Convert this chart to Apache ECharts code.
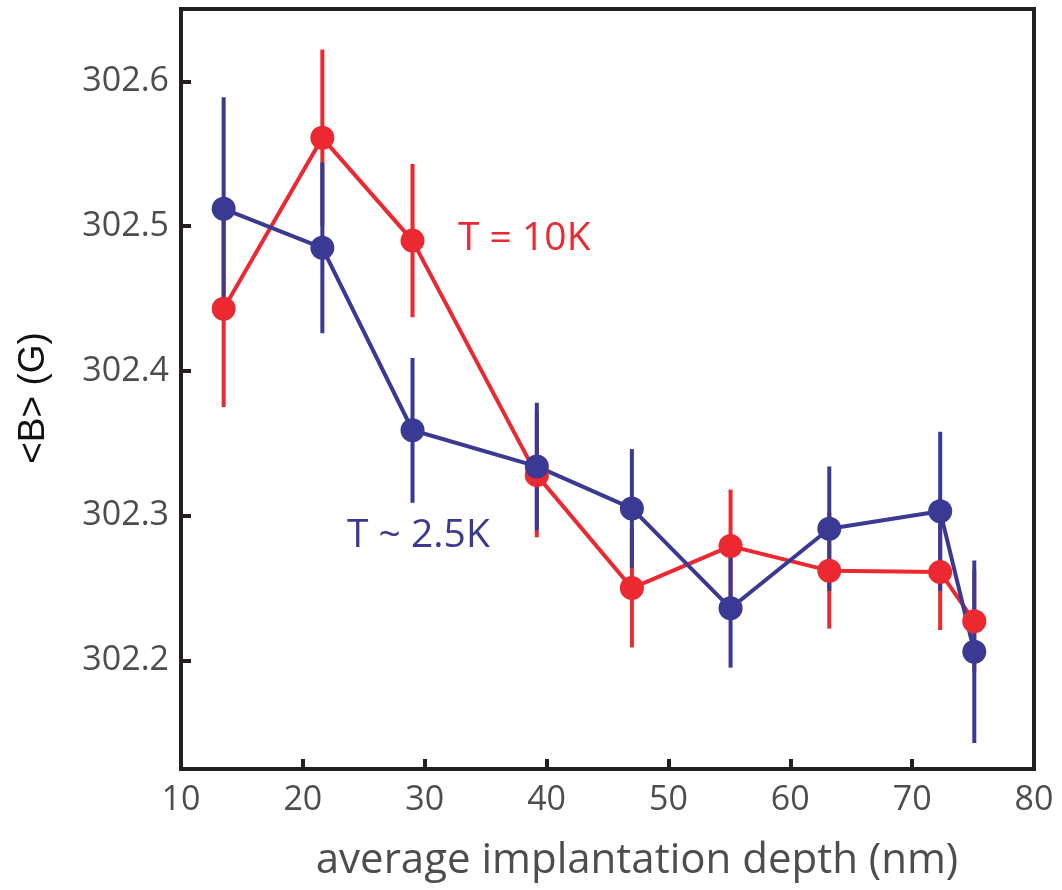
<!DOCTYPE html>
<html><head><meta charset="utf-8">
<script src="https://cdn.jsdelivr.net/npm/echarts@6/dist/echarts.min.js"></script>
<style>html,body{margin:0;padding:0;background:#fff}#c{width:1062px;height:890px}</style>
</head><body><div id="c"></div>
<script>
const depth = [13.5, 21.6, 29.0, 39.2, 47.0, 55.1, 63.2, 72.3, 75.1];
const b10K = [302.443, 302.561, 302.490, 302.328, 302.250, 302.279, 302.262, 302.261, 302.227];
const err10K = [0.068, 0.061, 0.053, 0.043, 0.041, 0.039, 0.040, 0.040, 0.035];
const b25K = [302.512, 302.485, 302.359, 302.334, 302.305, 302.236, 302.291, 302.303, 302.206];
const err25K = [0.077, 0.059, 0.050, 0.044, 0.041, 0.041, 0.043, 0.055, 0.063];
const xTicks = [10, 20, 30, 40, 50, 60, 70, 80];
const yTicks = [302.2, 302.3, 302.4, 302.5, 302.6];

const RED = '#EC2830', BLUE = '#3A3A94', AX = '#231F20', LBL = '#4D4D4D';
const FONT = '"Open Sans", sans-serif';

function pts(v){ return depth.map((d,i)=>[d, v[i]]); }
function errData(v, e){ return depth.map((d,i)=>[d, v[i]-e[i], v[i]+e[i]]); }
function errSeries(v, e, color){
  return {
    type: 'custom', data: errData(v, e), silent: true, clip: false,
    renderItem: function(params, api){
      const lo = api.coord([api.value(0), api.value(1)]);
      const hi = api.coord([api.value(0), api.value(2)]);
      return { type: 'line', shape: {x1: lo[0], y1: lo[1], x2: hi[0], y2: hi[1]},
               style: {stroke: color, lineWidth: 4} };
    }
  };
}
function lineSeries(v, color){
  return { type: 'line', data: pts(v), symbol: 'circle', symbolSize: 24,
           itemStyle: {color: color}, lineStyle: {color: color, width: 4},
           animation: false, silent: true };
}

const chart = echarts.init(document.getElementById('c'));
chart.setOption({
  animation: false,
  grid: { left: 181, top: 9, right: 28, bottom: 121, show: true, borderColor: AX, borderWidth: 4, backgroundColor: 'transparent' },
  xAxis: {
    type: 'value', min: xTicks[0], max: xTicks[xTicks.length-1], interval: 10,
    axisLine: {show: true, lineStyle: {color: AX, width: 4}},
    axisTick: {show: true, inside: true, length: 10, lineStyle: {color: AX, width: 4}},
    axisLabel: {color: LBL, fontSize: 34, fontFamily: FONT, margin: 14,
                formatter: v => xTicks.includes(Math.round(v)) ? String(Math.round(v)) : ''},
    splitLine: {show: false}
  },
  yAxis: {
    type: 'value', min: 302.125, max: 302.65, splitNumber: 5,
    axisLine: {show: true, lineStyle: {color: AX, width: 4}},
    axisTick: {show: true, inside: true, length: 10, lineStyle: {color: AX, width: 4}},
    axisLabel: {color: LBL, fontSize: 34, fontFamily: FONT, margin: 12, showMinLabel: false, showMaxLabel: false,
                formatter: v => { const t = yTicks.find(y => Math.abs(y - v) < 1e-6); return t ? t.toFixed(1) : ''; }},
    splitLine: {show: false}
  },
  graphic: [
    { type: 'text', x: 637, y: 882, style: {text: 'average implantation depth (nm)', fill: LBL, font: '42px ' + FONT, align: 'center', verticalAlign: 'bottom'} },
    { type: 'text', x: 34, y: 398, rotation: Math.PI/2, style: {text: '<B> (G)', fill: '#111', font: '37px "Liberation Sans", sans-serif', align: 'center', verticalAlign: 'middle'} },
    { type: 'text', x: 458, y: 239, style: {text: 'T = 10K', fill: RED, font: '39px ' + FONT, verticalAlign: 'middle'} },
    { type: 'text', x: 347, y: 536, style: {text: 'T ~ 2.5K', fill: BLUE, font: '39px ' + FONT, verticalAlign: 'middle'} }
  ],
  series: [
    errSeries(b10K, err10K, RED),
    lineSeries(b10K, RED),
    errSeries(b25K, err25K, BLUE),
    lineSeries(b25K, BLUE)
  ]
});
</script></body></html>
